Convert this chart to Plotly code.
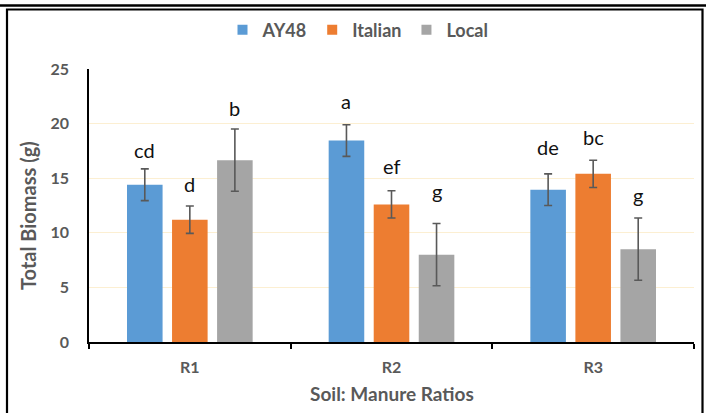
import plotly.graph_objects as go

# ---- data -------------------------------------------------------------
ratios = ["R1", "R2", "R3"]
series_names = ["AY48", "Italian", "Local"]
ay48 = [14.4, 18.45, 13.95]
italian = [11.2, 12.6, 15.4]
local = [16.65, 8.0, 8.5]
ay48_se = [1.45, 1.45, 1.45]
italian_se = [1.25, 1.25, 1.25]
local_se = [2.85, 2.85, 2.85]
ay48_letters = ["cd", "a", "de"]
italian_letters = ["d", "ef", "bc"]
local_letters = ["b", "g", "g"]
y_ticks = [0, 5, 10, 15, 20, 25]

# ---- styling ----------------------------------------------------------
colors = ["#5B9BD5", "#ED7D31", "#A5A5A5"]
label_lift = [[5, 10, 13], [8, 11, 9], [7, 19, 9]]  # px above error cap
FONT = "Lato"
GREY = "#595959"

W, H = 706, 413
ML, MR, MT, MB = 89, 12, 69, 71
PW, PH = W - ML - MR, H - MT - MB
BARGAP, GROUPGAP = 0.33, 0.21


def px(x):
    return (x - ML) / PW


def py(y):
    return 1 - (y - MT) / PH


values = [ay48, italian, local]
errors = [ay48_se, italian_se, local_se]
letters = [ay48_letters, italian_letters, local_letters]

fig = go.Figure()
for name, vals, err, col in zip(series_names, values, errors, colors):
    fig.add_trace(go.Bar(
        x=ratios, y=vals, name=name, marker=dict(color=col, line=dict(width=0)),
        error_y=dict(type="data", array=err, visible=True, color=GREY,
                     thickness=1.6, width=4),
        showlegend=False,
    ))
    # square legend swatch
    fig.add_trace(go.Scatter(
        x=[None], y=[None], mode="markers", name=name,
        marker=dict(symbol="square", size=10, color=col),
    ))

# significance letters above each error bar
slot = (1 - BARGAP) / len(series_names)
annotations = []
for j, (vals, err, labs) in enumerate(zip(values, errors, letters)):
    for i, (v, e, t) in enumerate(zip(vals, err, labs)):
        annotations.append(dict(
            x=i + (j - 1) * slot, y=v + e, xref="x", yref="y",
            text=t, showarrow=False, yanchor="bottom", yshift=label_lift[j][i],
            font=dict(family=FONT, size=20, color="#111111"),
        ))

# axis titles
annotations.append(dict(
    x=px(28), y=py(216), xref="paper", yref="paper", text="Total Biomass (g)",
    textangle=-90, showarrow=False, xanchor="center", yanchor="middle",
    font=dict(family=FONT, size=20, color=GREY, weight="bold"),
))
annotations.append(dict(
    x=px(391.5), y=py(393), xref="paper", yref="paper", text="Soil: Manure Ratios",
    showarrow=False, xanchor="center", yanchor="middle",
    font=dict(family=FONT, size=19, color=GREY, weight="bold"),
))
# clipped red heading above the frame
annotations.append(dict(
    x=px(342), y=py(1), xref="paper", yref="paper", text="y",
    showarrow=False, xanchor="center", yanchor="bottom",
    font=dict(family=FONT, size=16, color="#FF0000"),
))

# frame around the chart and rule above it
shapes = [
    dict(type="line", xref="paper", yref="paper", x0=px(0), x1=px(W),
         y0=py(5.5), y1=py(5.5), line=dict(color="black", width=2.5)),
    dict(type="rect", xref="paper", yref="paper", x0=px(7), x1=px(702.5),
         y0=py(9.5), y1=py(430), line=dict(color="black", width=2.2)),
]

fig.update_layout(
    width=W, height=H,
    margin=dict(l=ML, r=MR, t=MT, b=MB, pad=0),
    paper_bgcolor="white", plot_bgcolor="white",
    barmode="group", bargap=BARGAP, bargroupgap=GROUPGAP,
    font=dict(family=FONT, color=GREY),
    legend=dict(
        orientation="h", x=px(358), xanchor="center", y=py(30), yanchor="middle",
        font=dict(family=FONT, size=18, color=GREY, weight="bold"),
        itemwidth=30, tracegroupgap=0, bgcolor="rgba(0,0,0,0)",
    ),
    annotations=annotations,
    shapes=shapes,
)

fig.update_xaxes(
    type="category", showline=True, linecolor="black", linewidth=1.5,
    ticks="outside", tickson="boundaries", ticklen=5, tickcolor="black",
    tickwidth=1.5, showgrid=False, ticklabelstandoff=10,
    tickfont=dict(family=FONT, size=16, color=GREY, weight="bold"),
)
fig.update_yaxes(
    range=[0, 25], tickvals=y_ticks, showline=True, linecolor="black",
    linewidth=1.5, ticks="", showgrid=True, gridcolor="#FCEFD2", gridwidth=1,
    zeroline=False, ticklabelstandoff=15,
    tickfont=dict(family=FONT, size=16, color=GREY, weight="bold"),
)

fig.write_html("out.html")
